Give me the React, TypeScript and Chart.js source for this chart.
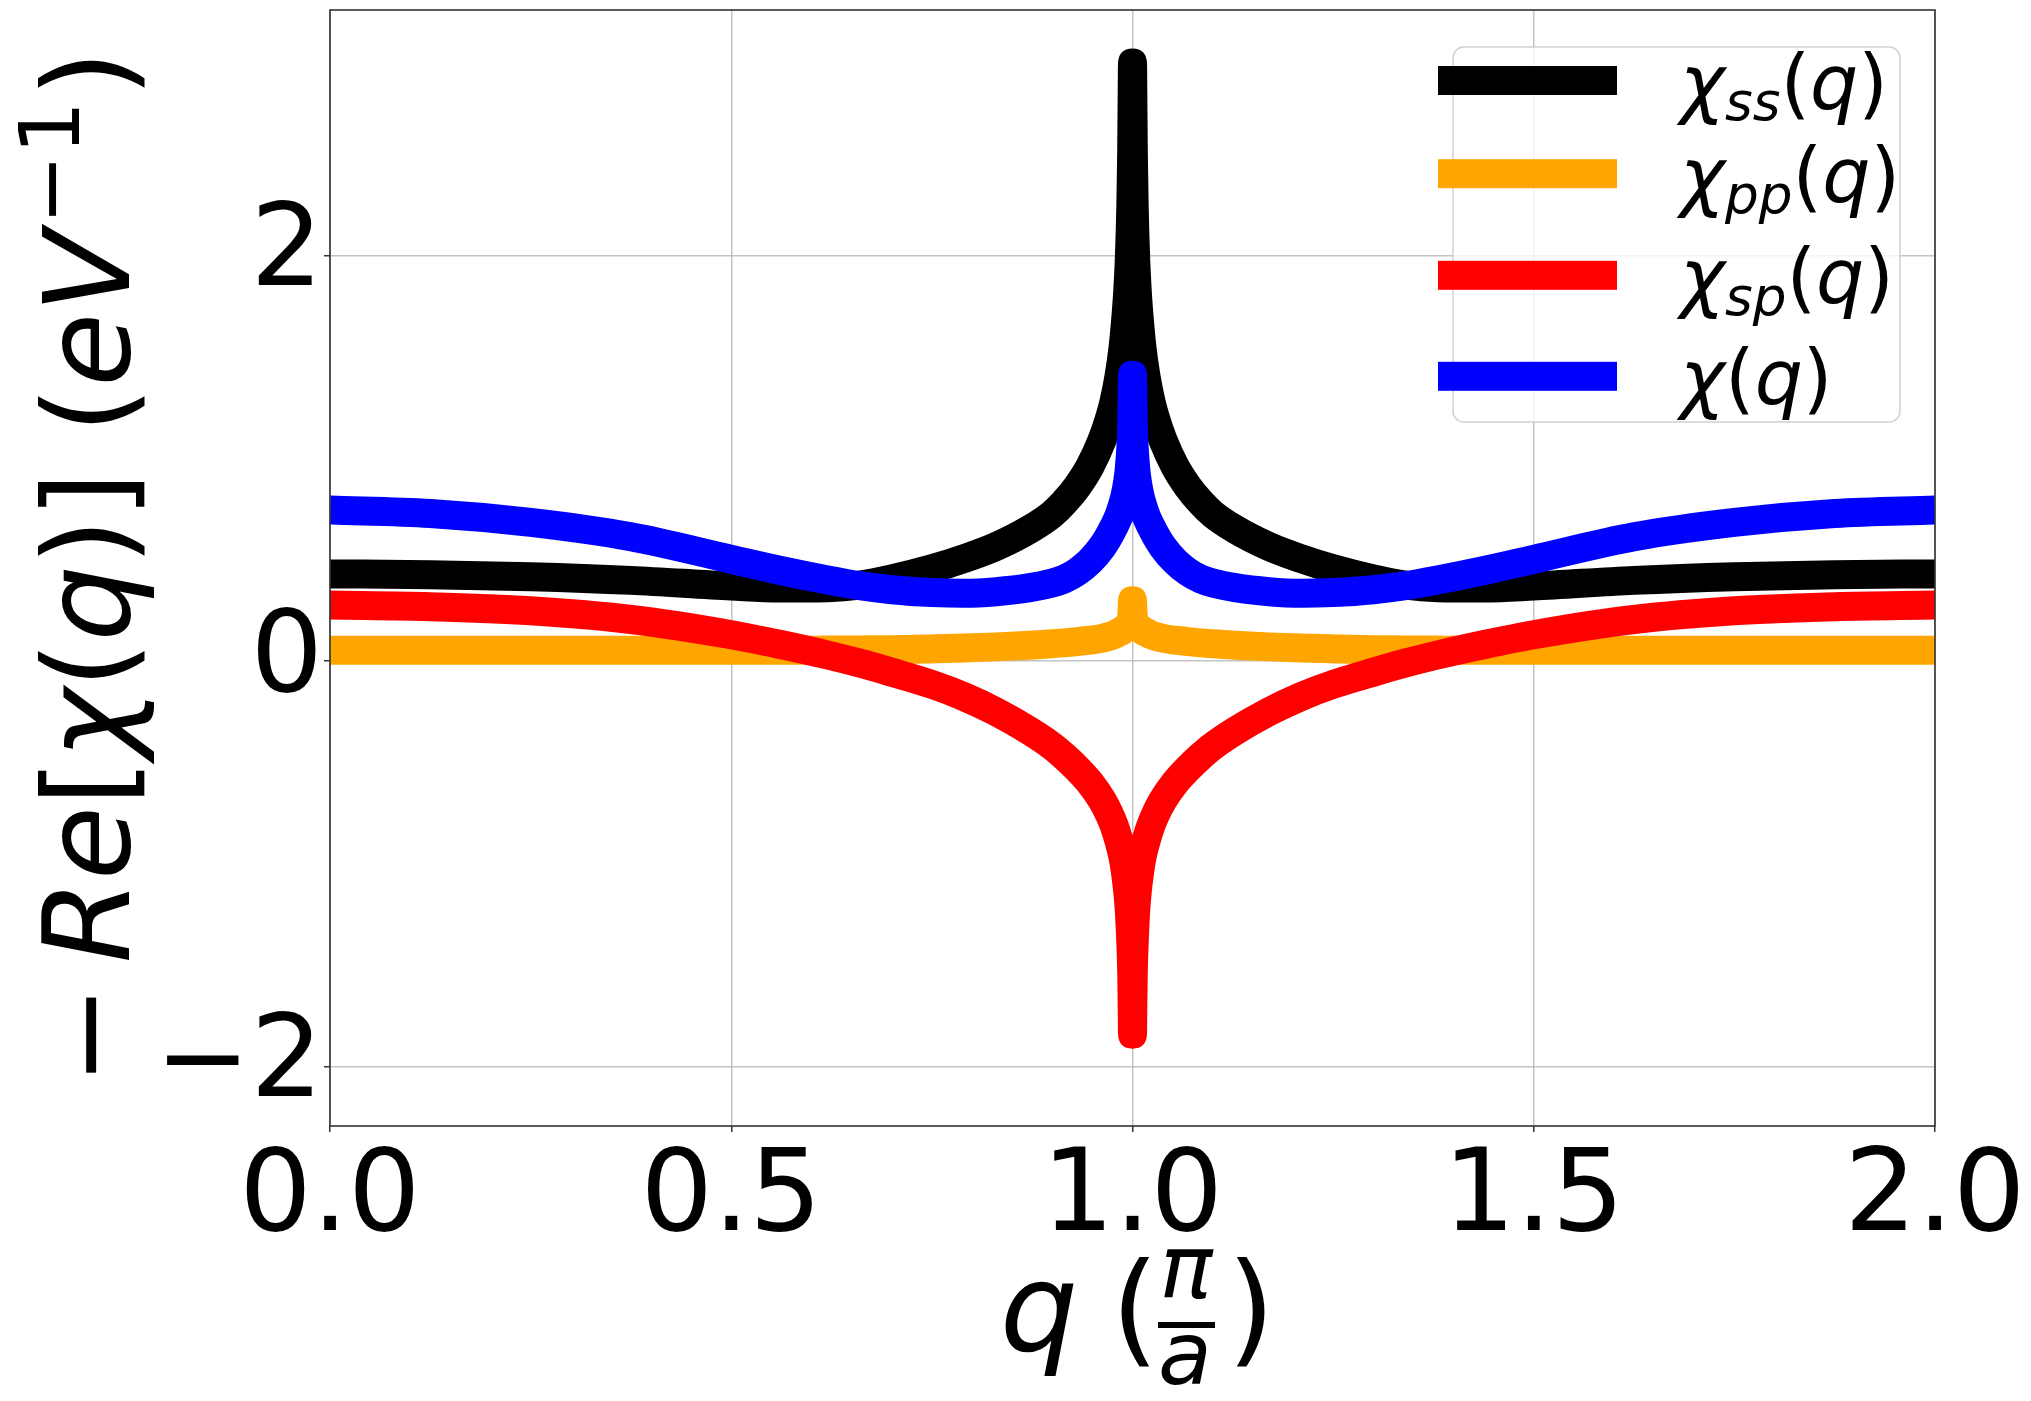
import React, { useEffect, useRef } from "react";
import { Chart, registerables } from "chart.js";

Chart.register(...registerables);

const W = 2031;
const H = 1401;

// q in units of pi/a
const qValues = [
  0, 0.125, 0.25, 0.375, 0.5, 0.56, 0.62, 0.66, 0.7, 0.75, 0.79, 0.83, 0.872, 0.9, 0.915, 0.931, 0.947, 0.962, 0.97,
  0.977, 0.983, 0.988, 0.991, 0.994, 0.996, 0.998, 0.999, 0.9996, 1.0, 1.0004, 1.001, 1.002, 1.004, 1.006, 1.009,
  1.012, 1.017, 1.023, 1.03, 1.038, 1.053, 1.069, 1.085, 1.1, 1.128, 1.17, 1.21, 1.25, 1.3, 1.34, 1.38, 1.44, 1.5,
  1.625, 1.75, 1.875, 2.0,
];

const chiSS = [
  0.43, 0.426, 0.416, 0.398, 0.37, 0.36, 0.362, 0.375, 0.405, 0.455, 0.505, 0.565, 0.65, 0.725, 0.783, 0.86, 0.96,
  1.09, 1.18, 1.28, 1.4, 1.54, 1.66, 1.82, 1.98, 2.26, 2.52, 2.8, 2.95, 2.8, 2.52, 2.26, 1.98, 1.82, 1.66, 1.54, 1.4,
  1.28, 1.18, 1.09, 0.96, 0.86, 0.783, 0.725, 0.65, 0.565, 0.505, 0.455, 0.405, 0.375, 0.362, 0.36, 0.37, 0.398, 0.416,
  0.426, 0.43,
];

const chiPP = [
  0.053, 0.053, 0.053, 0.053, 0.053, 0.053, 0.054, 0.055, 0.056, 0.06, 0.064, 0.07, 0.078, 0.085, 0.09, 0.096, 0.103,
  0.112, 0.12, 0.13, 0.142, 0.153, 0.162, 0.17, 0.18, 0.2, 0.22, 0.255, 0.297, 0.255, 0.22, 0.2, 0.18, 0.17, 0.162,
  0.153, 0.142, 0.13, 0.12, 0.112, 0.103, 0.096, 0.09, 0.085, 0.078, 0.07, 0.064, 0.06, 0.056, 0.055, 0.054, 0.053,
  0.053, 0.053, 0.053, 0.053, 0.053,
];

const chiSP = [
  0.276, 0.268, 0.248, 0.205, 0.13, 0.083, 0.03, -0.01, -0.055, -0.115, -0.175, -0.25, -0.345, -0.42, -0.47, -0.53,
  -0.6, -0.685, -0.745, -0.81, -0.885, -0.965, -1.035, -1.135, -1.23, -1.4, -1.53, -1.7, -1.84, -1.7, -1.53, -1.4,
  -1.23, -1.135, -1.035, -0.965, -0.885, -0.81, -0.745, -0.685, -0.6, -0.53, -0.47, -0.42, -0.345, -0.25, -0.175,
  -0.115, -0.055, -0.01, 0.03, 0.083, 0.13, 0.205, 0.248, 0.268, 0.276,
];

const chiTotal = [
  0.745, 0.728, 0.684, 0.613, 0.502, 0.448, 0.4, 0.372, 0.352, 0.338, 0.334, 0.342, 0.362, 0.385, 0.405, 0.44, 0.492,
  0.562, 0.612, 0.664, 0.716, 0.775, 0.82, 0.885, 0.95, 1.06, 1.17, 1.31, 1.41, 1.31, 1.17, 1.06, 0.95, 0.885, 0.82,
  0.775, 0.716, 0.664, 0.612, 0.562, 0.492, 0.44, 0.405, 0.385, 0.362, 0.342, 0.334, 0.338, 0.352, 0.372, 0.4, 0.448,
  0.502, 0.613, 0.684, 0.728, 0.745,
];

const xTicks = [0, 0.5, 1.0, 1.5, 2.0];
const yTicks = [-2, 0, 2];

const seriesColors = ["#000000", "#FFA500", "#FF0000", "#0000FF"];
const legendSubs = ["ss", "pp", "sp", ""];

const FAMILY = "'DejaVu Sans', 'Liberation Sans', sans-serif";

type Seg = { t: string; it?: boolean; scale?: number; rise?: number; gapBefore?: number };

function drawSegs(ctx: CanvasRenderingContext2D, segs: Seg[], x: number, y: number, size: number) {
  let cx = x;
  for (const s of segs) {
    const fs = size * (s.scale ?? 1);
    ctx.font = `${s.it ? "italic " : ""}${fs}px ${FAMILY}`;
    cx += (s.gapBefore ?? 0) * size;
    ctx.fillText(s.t, cx, y - (s.rise ?? 0) * size);
    cx += ctx.measureText(s.t).width;
  }
  return cx - x;
}

function measureSegs(ctx: CanvasRenderingContext2D, segs: Seg[], size: number) {
  let w = 0;
  for (const s of segs) {
    const fs = size * (s.scale ?? 1);
    ctx.font = `${s.it ? "italic " : ""}${fs}px ${FAMILY}`;
    w += (s.gapBefore ?? 0) * size + ctx.measureText(s.t).width;
  }
  return w;
}

const decorPlugin = {
  id: "decor",
  afterDatasetsDraw(chart: any) {
    const ctx: CanvasRenderingContext2D = chart.ctx;
    const a = chart.chartArea;
    ctx.save();
    // spines
    ctx.strokeStyle = "#333333";
    ctx.lineWidth = 1.6;
    ctx.strokeRect(a.left, a.top, a.right - a.left, a.bottom - a.top);

    // legend
    ctx.fillStyle = "rgba(255,255,255,0.8)";
    ctx.strokeStyle = "rgba(204,204,204,0.9)";
    ctx.lineWidth = 1.5;
    ctx.beginPath();
    (ctx as any).roundRect(1453, 47, 447, 375, 11);
    ctx.fill();
    ctx.stroke();
    const rowY = [80.5, 173.7, 275.3, 376.3];
    ctx.textBaseline = "alphabetic";
    ctx.textAlign = "left";
    for (let i = 0; i < 4; i++) {
      ctx.fillStyle = seriesColors[i];
      ctx.fillRect(1438, rowY[i] - 14.5, 179, 29);
      ctx.fillStyle = "#000";
      const base = rowY[i] + 28;
      const segs: Seg[] = [{ t: "χ", it: true }];
      if (legendSubs[i]) segs.push({ t: legendSubs[i], it: true, scale: 0.7, rise: -0.15 });
      segs.push({ t: "(" }, { t: "q", it: true }, { t: ")" });
      drawSegs(ctx, segs, 1680, base, 76);
    }

    // x title: q (π/a)
    ctx.fillStyle = "#000";
    ctx.textAlign = "center";
    ctx.font = `italic 123px ${FAMILY}`;
    ctx.fillText("q", 1039, 1351);
    ctx.font = `123px ${FAMILY}`;
    ctx.fillText("(", 1135, 1351);
    ctx.fillText(")", 1251, 1351);
    ctx.font = `italic 88px ${FAMILY}`;
    ctx.fillText("π", 1186, 1298);
    ctx.fillText("a", 1185, 1384);
    ctx.fillRect(1158, 1322, 57, 6);

    // y title: −Re[χ(q)] (eV^−1)
    const F = 120;
    const ysegs: Seg[] = [
      { t: "−" },
      { t: "R", it: true, gapBefore: 0.18 },
      { t: "e", it: true },
      { t: "[" },
      { t: "χ", it: true },
      { t: "(" },
      { t: "q", it: true },
      { t: ")" },
      { t: "]" },
      { t: " " },
      { t: "(" },
      { t: "e", it: true },
      { t: "V", it: true },
      { t: "−1", scale: 0.7, rise: 0.42, gapBefore: 0.05 },
      { t: ")", gapBefore: 0.03 },
    ];
    ctx.textAlign = "left";
    const total = measureSegs(ctx, ysegs, F);
    ctx.translate(129, 568);
    ctx.rotate(-Math.PI / 2);
    drawSegs(ctx, ysegs, -total / 2, 0, F);
    ctx.restore();
  },
};

export default function App() {
  const ref = useRef<HTMLCanvasElement>(null);

  useEffect(() => {
    const canvas = ref.current;
    if (!canvas) return;
    const mk = (label: string, vals: number[], color: string, order: number) => ({
      label,
      data: qValues.map((q, i) => ({ x: q, y: vals[i] })),
      borderColor: color,
      backgroundColor: color,
      borderWidth: 29,
      pointRadius: 0,
      pointHoverRadius: 0,
      borderJoinStyle: "round" as const,
      borderCapStyle: "butt" as const,
      cubicInterpolationMode: "monotone" as const,
      fill: false,
      clip: 0,
      order,
    });
    const gridColor = "rgba(176,176,176,0.75)";
    const tickFont = { family: FAMILY, size: 114 };
    const chart = new Chart(canvas, {
      type: "line",
      data: {
        datasets: [
          mk("χss(q)", chiSS, seriesColors[0], 3),
          mk("χpp(q)", chiPP, seriesColors[1], 2),
          mk("χsp(q)", chiSP, seriesColors[2], 1),
          mk("χ(q)", chiTotal, seriesColors[3], 0),
        ],
      },
      options: {
        responsive: false,
        maintainAspectRatio: false,
        devicePixelRatio: 1,
        animation: false,
        events: [],
        layout: { padding: { left: 0, right: 96, top: 10, bottom: 0 } },
        plugins: { legend: { display: false }, tooltip: { enabled: false }, title: { display: false } },
        scales: {
          x: {
            type: "linear",
            min: 0,
            max: 2,
            afterBuildTicks: (s: any) => {
              s.ticks = xTicks.map((v) => ({ value: v }));
            },
            afterFit: (s: any) => {
              s.height = 275;
              s.paddingLeft = 0;
              s.paddingRight = 0;
            },
            ticks: {
              font: tickFont,
              color: "#000",
              padding: 0,
              maxRotation: 0,
              autoSkip: false,
              callback: (v: any) => Number(v).toFixed(1),
            },
            grid: { color: gridColor, lineWidth: 1.5, tickLength: 6, tickColor: "#333", tickWidth: 1.5 },
            border: { display: false },
          },
          y: {
            type: "linear",
            min: -2.293,
            max: 3.211,
            afterBuildTicks: (s: any) => {
              s.ticks = yTicks.map((v) => ({ value: v }));
            },
            afterFit: (s: any) => {
              s.width = 330;
              s.paddingTop = 0;
              s.paddingBottom = 0;
            },
            ticks: {
              font: tickFont,
              color: "#000",
              padding: 1,
              autoSkip: false,
              callback: (v: any) => (Number(v) < 0 ? "−" + Math.abs(Number(v)) : String(v)),
            },
            grid: { color: gridColor, lineWidth: 1.5, tickLength: 6, tickColor: "#333", tickWidth: 1.5 },
            border: { display: false },
          },
        },
      },
      plugins: [decorPlugin],
    } as any);
    return () => chart.destroy();
  }, []);

  return (
    <div style={{ position: "fixed", left: 0, top: 0, width: W, height: H, background: "#fff" }}>
      <canvas ref={ref} width={W} height={H} style={{ display: "block", width: W, height: H }} />
    </div>
  );
}
